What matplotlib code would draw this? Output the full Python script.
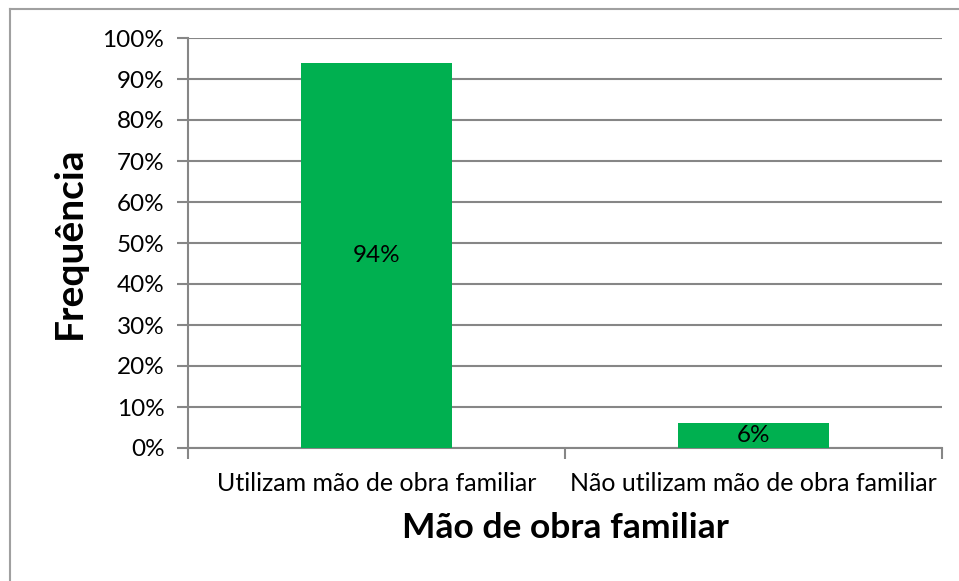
import matplotlib
matplotlib.use("Agg")
import matplotlib.pyplot as plt
from matplotlib.lines import Line2D

plt.rcParams['font.family'] = ['Lato', 'DejaVu Sans']

## data
categorias = ["Utilizam mão de obra familiar", "Não utilizam mão de obra familiar"]
frequencia = [94, 6]
rotulos = ["94%", "6%"]
yticks = [0, 10, 20, 30, 40, 50, 60, 70, 80, 90, 100]

VERDE = "#00B050"
CINZA = "#868686"

fig = plt.figure(figsize=(9.59, 5.81), dpi=100)
ax = fig.add_axes([188 / 959, 1 - 448 / 581, (942 - 188) / 959, (448 - 38) / 581])

x = list(range(len(categorias)))
bars = ax.bar(x, frequencia, width=0.4, color=VERDE, zorder=3)
for b, txt in zip(bars, rotulos):
    ax.text(b.get_x() + b.get_width() / 2, b.get_height() / 2, txt,
            ha="center", va="center", fontsize=17.5, color="black", zorder=4)

ax.set_xlim(-0.5, 1.5)
ax.set_ylim(0, 100)
ax.set_yticks(yticks)
ax.set_yticklabels([f"{v}%" for v in yticks], fontsize=17.5)
ax.yaxis.grid(True, color=CINZA, linewidth=1.5, zorder=0)

# category labels between tick marks, like excel
ax.set_xticks([-0.5, 0.5, 1.5])
ax.set_xticklabels([])
ax.set_xticks(x, minor=True)
ax.set_xticklabels(categorias, minor=True, fontsize=18)
ax.tick_params(axis="x", which="minor", length=0, pad=17)
ax.tick_params(axis="x", which="major", length=8, width=1.5, color=CINZA)
ax.tick_params(axis="y", length=8, width=1.5, color=CINZA, pad=9)

for s in ["top", "right"]:
    ax.spines[s].set_visible(False)
for s in ["left", "bottom"]:
    ax.spines[s].set_color(CINZA)
    ax.spines[s].set_linewidth(1.5)

ax.set_ylabel("Frequência", fontsize=28, fontweight="bold")
ax.yaxis.set_label_coords(-(188 - 69) / 754, 0.5)
ax.set_xlabel("Mão de obra familiar", fontsize=25.5, fontweight="bold")
ax.xaxis.set_label_coords(0.5, -(528 - 448) / 410)
ax.xaxis.label.set_va("center")
ax.yaxis.label.set_va("center")

# chart border (only left/top visible in the reference)
fig.add_artist(Line2D([10 / 959, 10 / 959], [0, 1 - 9 / 581], color="#A0A0A0", linewidth=1.5))
fig.add_artist(Line2D([10 / 959, 1], [1 - 9 / 581, 1 - 9 / 581], color="#A0A0A0", linewidth=1.5))

fig.savefig("out.png", dpi=100)
